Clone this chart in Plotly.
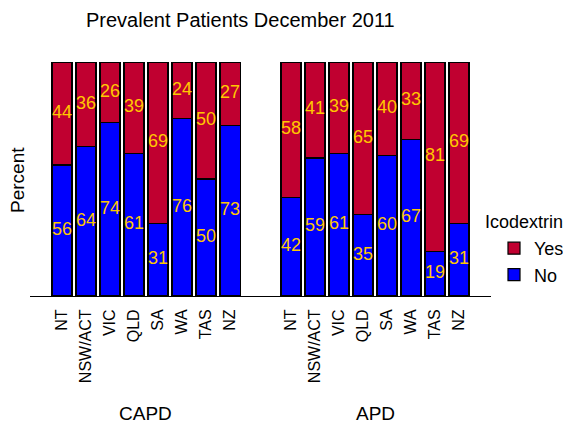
import plotly.graph_objects as go
from plotly.subplots import make_subplots

regions = ["NT", "NSW/ACT", "VIC", "QLD", "SA", "WA", "TAS", "NZ"]
capd_yes = [44, 36, 26, 39, 69, 24, 50, 27]
capd_no = [56, 64, 74, 61, 31, 76, 50, 73]
apd_yes = [58, 41, 39, 65, 40, 33, 81, 69]
apd_no = [42, 59, 61, 35, 60, 67, 19, 31]
panels = ["CAPD", "APD"]

RED = "#C00030"
BLUE = "#0000FF"
GOLD = "#FFC800"
FONT = "Liberation Sans, Arial, sans-serif"

fig = make_subplots(rows=1, cols=2, horizontal_spacing=0)

data = [(capd_no, capd_yes), (apd_no, apd_yes)]
for col, (no, yes) in enumerate(data, start=1):
    fig.add_trace(go.Bar(x=regions, y=no, name="No", marker_color=BLUE,
                         marker_line=dict(color="black", width=1.2),
                         showlegend=(col == 1), legendrank=2), row=1, col=col)
    fig.add_trace(go.Bar(x=regions, y=yes, name="Yes", marker_color=RED,
                         marker_line=dict(color="black", width=1.2),
                         showlegend=(col == 1), legendrank=1), row=1, col=col)
    mids = [n / 2 for n in no] + [n + y / 2 for n, y in zip(no, yes)]
    fig.add_trace(go.Scatter(x=regions + regions, y=mids, mode="text",
                             text=[str(v) for v in no + yes],
                             textfont=dict(color=GOLD, size=18, family=FONT),
                             showlegend=False, cliponaxis=False, hoverinfo="skip"),
                  row=1, col=col)

L, R, T, B = 30, 72, 62, 129
W, H = 563, 425
pw, ph = W - L - R, H - T - B
d = (260.5 - L) / pw

fig.update_layout(
    width=W, height=H, barmode="stack", bargap=0.16,
    margin=dict(l=L, r=R, t=T, b=B, autoexpand=False),
    plot_bgcolor="white", paper_bgcolor="white",
    font=dict(family=FONT, color="black", size=15),
    legend=dict(x=(494 - L) / pw, xanchor="left", y=(296 - 230) / ph, yanchor="top",
                font=dict(size=18), traceorder="normal", tracegroupgap=0,
                itemwidth=30),
)
fig.update_xaxes(showline=True, linecolor="black", linewidth=1, ticks="",
                 tickangle=-90, tickfont=dict(size=16), ticklabelstandoff=6,
                 showgrid=False, zeroline=False)
fig.update_layout(
    xaxis=dict(domain=[0, d], range=[-1.333, 8.27]),
    xaxis2=dict(domain=[d, 1], range=[-1.27, 8.333]),
)
fig.update_yaxes(range=[0, 100], showline=False, showticklabels=False, ticks="",
                 showgrid=False, zeroline=False)
fig.update_yaxes(matches="y")

fig.add_annotation(text="Prevalent Patients December 2011", xref="paper", yref="paper",
                   x=(240 - L) / pw, y=(296 - 20) / ph, showarrow=False,
                   font=dict(size=20), xanchor="center", yanchor="middle")
fig.add_annotation(text="Percent", xref="paper", yref="paper",
                   x=(17 - L) / pw, y=(296 - 180) / ph, showarrow=False, textangle=-90,
                   font=dict(size=19), xanchor="center", yanchor="middle")
fig.add_annotation(text="Icodextrin", xref="paper", yref="paper",
                   x=(483 - L) / pw, y=(296 - 222) / ph, showarrow=False,
                   font=dict(size=18), xanchor="left", yanchor="middle")
for i, p in enumerate(panels):
    fig.add_annotation(text=p, xref=("x domain" if i == 0 else "x2 domain"), yref="paper",
                       x=0.5, y=(296 - 413) / ph, showarrow=False,
                       font=dict(size=19), xanchor="center", yanchor="middle")

fig.write_html("out.html")
